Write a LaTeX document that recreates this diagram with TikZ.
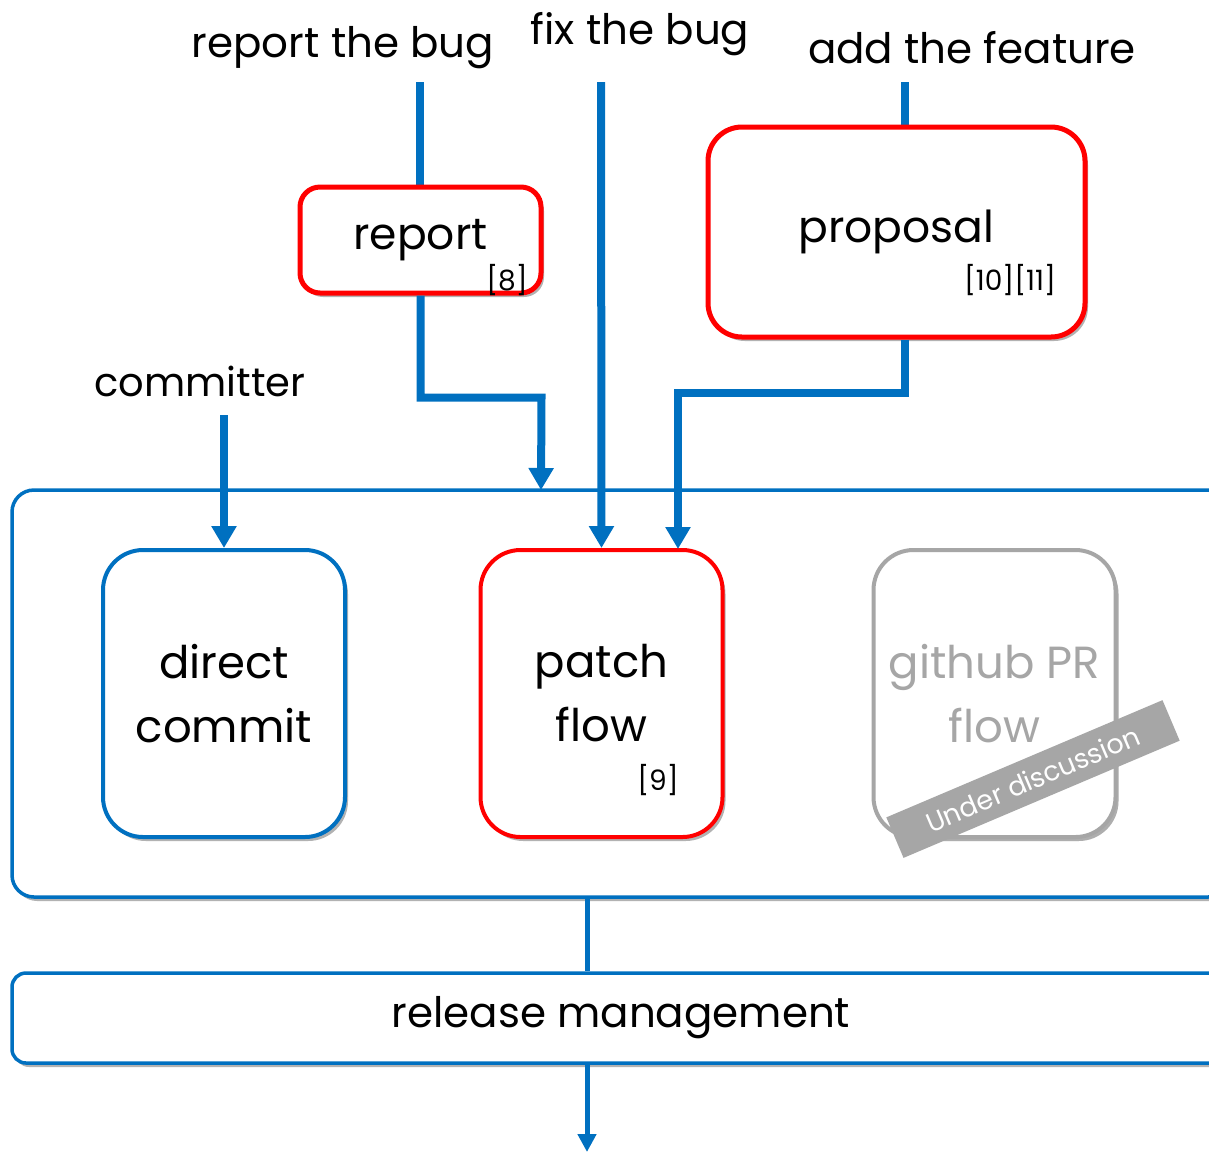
\documentclass[tikz,border=0pt]{standalone}
\usepackage{fontspec}
\setmainfont{Poppins}
\usetikzlibrary{arrows.meta,positioning,shadows,calc}
\usepackage{xcolor}
\definecolor{flowblue}{HTML}{0070C0}
\definecolor{alertred}{HTML}{FF0000}
\definecolor{pendgray}{HTML}{A6A6A6}

\begin{document}
\begin{tikzpicture}[x=0.5pt,y=-0.5pt,
	  every node/.style={align=center,text=black,inner sep=0pt},
	  label/.style={font=\fontsize{21}{25}\selectfont},
	  ref/.style={font=\fontsize{14}{16}\selectfont},
	  shade/.style={drop shadow={shadow xshift=1.5pt,shadow yshift=-2pt,opacity=0.3,fill=black}},
	  idea/.style={shade,draw=alertred,line width=2.5pt,fill=white,font=\fontsize{22}{25}\selectfont},
	  flowbox/.style={shade,line width=2pt,fill=white,minimum width=121pt,minimum height=143.5pt,rounded corners=20pt,font=\fontsize{22.5}{32}\selectfont},
	  frame/.style={shade,draw=flowblue,line width=1.75pt,fill=white,minimum width=609pt},
	  to/.style={-{Triangle[width=12pt,length=11pt]},draw=flowblue,line width=4pt},
	  ship/.style={-{Triangle[width=9pt,length=9pt]},draw=flowblue,line width=2.5pt}]

	  \clip (0,0) rectangle (1209,1153);
	  \useasboundingbox (0,0) rectangle (1209,1153);

	  % where the work comes from
	  \node[label] (bug) at (343,48) {report the bug};
	  \node[label] (fix) at (640,34) {fix the bug};
	  \node[label] (feature) at (972,48) {add the feature};
	  \node[label,font=\fontsize{20}{24}\selectfont] (committer) at (200,381) {committer};

	  \coordinate (bugtop) at (420,82);
	  \coordinate (fixtop) at (601,82);
	  \coordinate (feattop) at (905,82);
	  \coordinate (comtop) at (224,415);

	  \draw[to,-] (bugtop) -- (420,190);
	  \draw[to,-] (feattop) -- (905,130);

	  \node[idea,minimum width=120.5pt,minimum height=53pt,rounded corners=10pt] (report) at (420.5,240) {report};
	  \node[ref] (reportref) at (507,280) {[8]};
	  \node[idea,minimum width=188.5pt,minimum height=105pt,rounded corners=17pt] (proposal) at (896.5,232) {proposal};
	  \node[ref] (proposalref) at (1010,280) {[10][11]};

	  % the three flows
	  \node[frame,minimum height=203.5pt,rounded corners=11pt] (flows) at (621,693.5) {};
	  \node[flowbox,draw=flowblue] (directcommit) at (224,693.5) {direct\\commit};
	  \node[flowbox,draw=alertred] (patchflow) at (601.5,693.5) {patch\\flow};
	  \node[ref] (patchref) at (658,780) {[9]};
	  \node[flowbox,draw=pendgray,text=pendgray,drop shadow={shadow xshift=1.5pt,shadow yshift=-2pt,opacity=0.25,fill=pendgray}] (githubflow) at (994.5,693.5) {github PR\\flow};
	  \node[fill=pendgray,text=white,rotate=23,minimum width=150pt,minimum height=22pt,font=\fontsize{13.5}{16}\selectfont] (pending) at (1033,779) {Under discussion};

	  \coordinate (bugin) at (541,490);
	  \coordinate (featin) at (678,549);

	  \draw[to] (report.south) |- ++(121,102) -- (bugin);
	  \draw[to] (fixtop) -- (patchflow.north);
	  \draw[to] (proposal.south -| feattop) |- ($(featin)+(0,-156)$) -- (featin);
	  \draw[to] (comtop) -- (directcommit.north);

	  % release
	  \node[frame,minimum height=45pt,rounded corners=7pt,font=\fontsize{21}{25}\selectfont] (release) at (621,1018) {release management};
	  \coordinate (relout) at (587,1152);
	  \draw[ship,-] (flows.south -| relout) -- (release.north -| relout);
	  \draw[ship] (release.south -| relout) -- (relout);
\end{tikzpicture}
\end{document}
